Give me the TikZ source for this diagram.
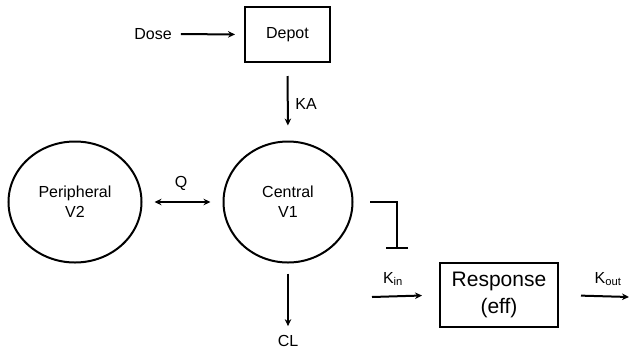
\documentclass[tikz,border=0pt]{standalone}
\usepackage{fontspec}
\setmainfont{Liberation Sans}
\usetikzlibrary{shapes.geometric,arrows.meta}
\begin{document}
\begin{tikzpicture}[x=1pt,y=-1pt,
  lbl/.style={font=\fontsize{16}{20}\selectfont, inner sep=0pt, align=center},
  boxnode/.style={draw, line width=2pt, inner sep=0pt, align=center},
  comp/.style={draw, ellipse, line width=2pt, inner sep=0pt, align=center,
               font=\fontsize{16}{20}\selectfont},
  arr/.style={line width=2pt, -{Stealth[length=7pt,width=6.5pt]}},
  darr/.style={line width=2pt, {Stealth[length=7pt,width=6.5pt]}-{Stealth[length=7pt,width=6.5pt]}}]
\useasboundingbox (0,0) rectangle (629,354);

\node[lbl] (dose) at (153,34) {Dose};
\node[boxnode, minimum width=85pt, minimum height=55pt, font=\fontsize{16}{20}\selectfont] (depot) at (287.5,34.5) {Depot};
\node[comp, minimum width=133pt, minimum height=121pt] (periph) at (75,202) {Peripheral\\V2};
\node[comp, minimum width=129pt, minimum height=121pt] (central) at (288,202) {Central\\V1};
\node[boxnode, minimum width=118pt, minimum height=64pt, font=\fontsize{21}{27}\selectfont] (resp) at (499,295) {Response\\(eff)};

\node[lbl] (ka) at (306,104) {KA};
\node[lbl] (q) at (181,183) {Q};
\node[lbl] (cl) at (288,341) {CL};
\node[lbl] (kin) at (393,279) {K\textsubscript{in}};
\node[lbl] (kout) at (608,279) {K\textsubscript{out}};

\coordinate (inhA) at (370,202);
\coordinate (inhB) at (397,249);
\coordinate (kinS) at (372,297);
\coordinate (koutE) at (629,297);

\draw[arr, shorten <=9pt, shorten >=9pt] (dose.east) -- (depot.west);
\draw[arr, shorten <=13pt, shorten >=15pt] (depot.south) -- (central.north);
\draw[darr, shorten <=12pt, shorten >=12pt] (periph.east) -- (central.west);
\draw[arr, shorten <=10pt, shorten >=9pt] (central.south) -- (cl.north);
\draw[line width=2pt, -{Bar[width=22pt,line width=2pt]}] (inhA) -| (inhB);
\draw[arr, shorten >=17pt] (kinS) -- (resp.west);
\draw[arr, shorten <=22pt] (resp.east) -- (koutE);
\end{tikzpicture}
\end{document}
